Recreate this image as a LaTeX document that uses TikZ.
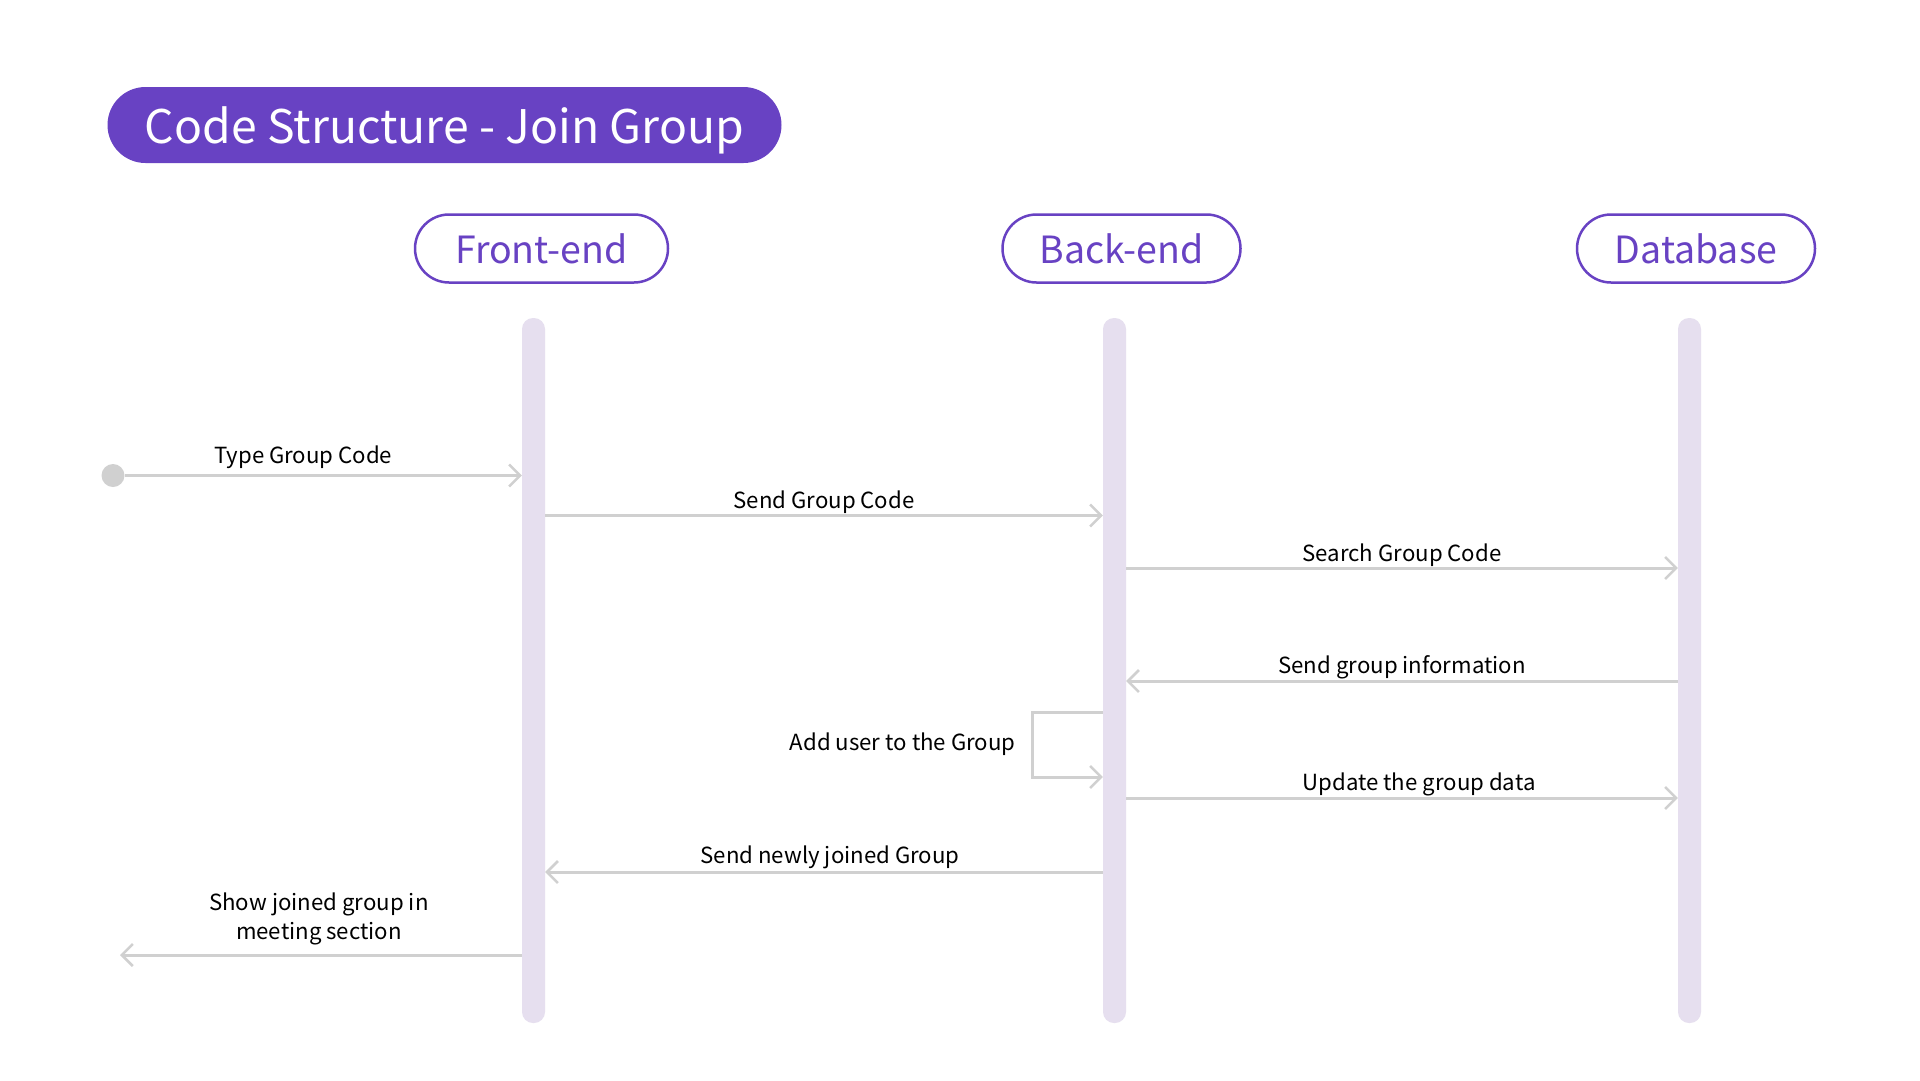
\documentclass[tikz,border=0pt]{standalone}
\usepackage{fontspec}
\setmainfont{Noto Sans CJK KR}
\usetikzlibrary{positioning,arrows.meta}
\definecolor{joinpurple}{HTML}{6842C3}
\definecolor{lifelav}{HTML}{E6DFEF}
\definecolor{msggray}{HTML}{D0D0D0}

\begin{document}
\begin{tikzpicture}[x=1pt,y=-1pt,
    actor/.style={draw=joinpurple,line width=2.5pt,rounded corners=34pt,minimum width=#1,
        minimum height=68pt,text=joinpurple,font=\fontsize{37.5}{44}\selectfont},
    life/.style={fill=lifelav,rounded corners=11pt,minimum width=23pt,minimum height=705pt,inner sep=0pt},
    msg/.style={draw=msggray,line width=3pt,-{Straight Barb[length=11pt,width=22pt,line width=2.5pt]}},
    lbl/.style={inner sep=0pt,font=\fontsize{22.2}{29}\selectfont,text=black}]
    \useasboundingbox[fill=white] (0,0) rectangle (1920,1080);

    \node[fill=joinpurple,text=white,rounded corners=38pt,minimum width=674pt,minimum height=76pt,
        text depth=0pt,font=\fontsize{46.3}{54}\selectfont] (title) at (444.5,125) {Code Structure - Join Group};

    \node[actor=253pt] (front) at (541.5,248.5) {Front-end};
    \node[actor=238pt] (back) at (1121.5,248.5) {Back-end};
    \node[actor=238pt] (db) at (1696,248.5) {Database};

    \node[life] (frontlife) at (533.5,670.5) {};
    \node[life] (backlife) at (1114.5,670.5) {};
    \node[life] (dblife) at (1689.5,670.5) {};

    \node[circle,fill=msggray,minimum size=23pt,inner sep=0pt] (start) at (113,475.5) {};
    \coordinate (show) at (120,955);

    \draw[msg] (start) -- node[lbl,above=5pt,xshift=-20pt] {Type Group Code} (frontlife.west |- start);
    \draw[msg] (frontlife.east |- 0,515.5) -- node[lbl,above=0pt] {Send Group Code} (backlife.west |- 0,515.5);
    \draw[msg] (backlife.east |- 0,568) -- node[lbl,above=0pt] {Search Group Code} (dblife.west |- 0,568);
    \draw[msg] (dblife.west |- 0,681) -- node[lbl,above=0pt] {Send group information} (backlife.east |- 0,681);
    \draw[msg] (backlife.west |- 0,712) -| node[lbl,left=15pt,pos=0.75] {Add user to the Group} (1032,777)
        -- (backlife.west |- 0,777);
    \draw[msg] (backlife.east |- 0,798) -- node[lbl,above=0pt,xshift=17pt] {Update the group data} (dblife.west |- 0,798);
    \draw[msg] (backlife.west |- 0,872) -- node[lbl,above=1.5pt,xshift=6pt] {Send newly joined Group} (frontlife.east |- 0,872);
    \draw[msg] (frontlife.west |- show) -- node[lbl,above=8pt,align=center,xshift=-2pt] {Show joined group in\\meeting section} (show);
\end{tikzpicture}
\end{document}
